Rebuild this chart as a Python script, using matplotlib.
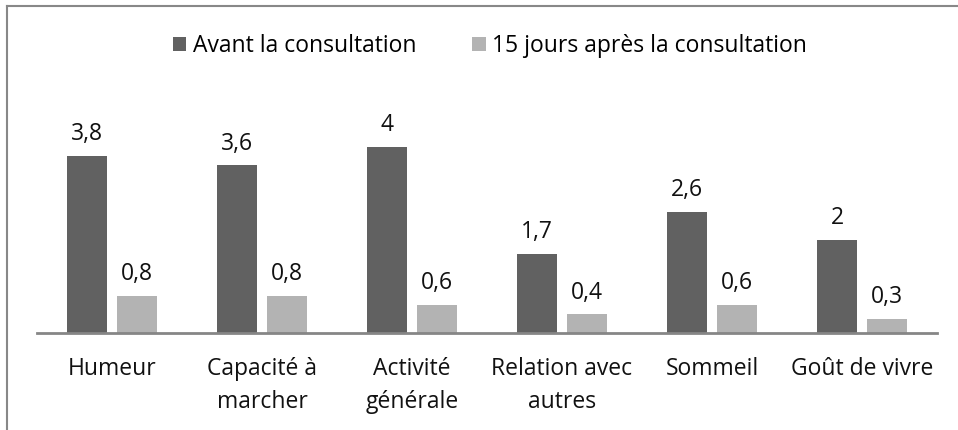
import matplotlib.pyplot as plt
import numpy as np

categories = ["Humeur", "Capacité à\nmarcher", "Activité\ngénérale",
              "Relation avec\nautres", "Sommeil", "Goût de vivre"]
avant = [3.8, 3.6, 4, 1.7, 2.6, 2]
apres = [0.8, 0.8, 0.6, 0.4, 0.6, 0.3]
series_names = ["Avant la consultation", "15 jours après la consultation"]

plt.rcParams['font.family'] = ['Open Sans', 'DejaVu Sans']
FS = 16.5

fig = plt.figure(figsize=(9.58, 4.3), dpi=100)
# axes placed in pixel terms: x 37..937, baseline at y=333
ax = fig.add_axes([37 / 958, (430 - 333) / 430, 900 / 958, 233 / 430])

x = np.arange(len(categories))
w = 0.267
b1 = ax.bar(x - 0.167, avant, w, color='#616161', label=series_names[0])
b2 = ax.bar(x + 0.167, apres, w, color='#b3b3b3', label=series_names[1])

for bars, vals in ((b1, avant), (b2, apres)):
    for r, v in zip(bars, vals):
        ax.annotate(f"{v:g}".replace('.', ','), (r.get_x() + r.get_width() / 2, v),
                    xytext=(0, 7), textcoords='offset points',
                    ha='center', va='bottom', fontsize=FS, color='#111111')

ax.set_xlim(-0.5, len(categories) - 0.5)
ax.set_ylim(0, 5)
ax.set_yticks([])
ax.set_xticks(x)
ax.set_xticklabels(categories, fontsize=FS, color='#111111', linespacing=1.5)
ax.tick_params(axis='x', length=0, pad=17)
for s in ['top', 'right', 'left']:
    ax.spines[s].set_visible(False)
ax.spines['bottom'].set_color('#868686')
ax.spines['bottom'].set_linewidth(2)

fig.legend(handles=[b1, b2], loc='center', bbox_to_anchor=(490 / 958, 1 - 46 / 430),
           ncol=2, frameon=False, fontsize=FS, handlelength=0.6, handleheight=0.6,
           handletextpad=0.3, columnspacing=2.4)

# outer chart border (top and left visible)
fig.add_artist(plt.Line2D([7 / 958, 1], [1 - 6 / 430, 1 - 6 / 430], color='#888888', lw=1.5))
fig.add_artist(plt.Line2D([7 / 958, 7 / 958], [0, 1 - 6 / 430], color='#888888', lw=1.5))

fig.savefig('out.png', dpi=100)
